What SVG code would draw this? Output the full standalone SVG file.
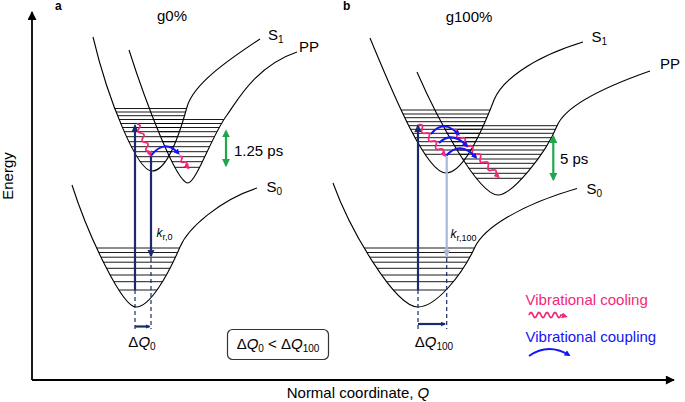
<svg xmlns="http://www.w3.org/2000/svg" width="685" height="402" viewBox="0 0 685 402">
<defs>
<style>
text{font-family:"Liberation Sans",Arial,sans-serif;fill:#000}
.lab{font-size:15px}
.sub{font-size:10px}
.curve{fill:none;stroke:#000;stroke-width:1.1}
.lvl{fill:none;stroke:#000;stroke-width:0.9}
.axis{fill:none;stroke:#000;stroke-width:1.8}
.navy{fill:none;stroke:#1a2a6c;stroke-width:2.2}
.dash{fill:none;stroke:#1a2a6c;stroke-width:1.2;stroke-dasharray:4 3}
.lb{fill:none;stroke:#a7b9d6;stroke-width:2.2}
.pink{fill:none;stroke:#f2287b;stroke-width:1.8;stroke-linejoin:round}
.blue{fill:none;stroke:#1414f5;stroke-width:2}
.green{fill:none;stroke:#1ea84b;stroke-width:2.2}
</style>
<marker id="ah-black" viewBox="0 0 10 10" refX="9" refY="5" markerWidth="11" markerHeight="9" markerUnits="userSpaceOnUse" orient="auto"><path d="M0,0 L10,5 L0,10 Z" fill="#000"/></marker>
<marker id="ah-navy" viewBox="0 0 10 10" refX="8" refY="5" markerWidth="8" markerHeight="8" markerUnits="userSpaceOnUse" orient="auto"><path d="M0,0.5 L10,5 L0,9.5 Z" fill="#1a2a6c"/></marker>
<marker id="ah-navy-s" viewBox="0 0 10 10" refX="8" refY="5" markerWidth="5" markerHeight="5" markerUnits="userSpaceOnUse" orient="auto"><path d="M0,0.5 L10,5 L0,9.5 Z" fill="#1a2a6c"/></marker>
<marker id="ah-lb" viewBox="0 0 10 10" refX="8" refY="5" markerWidth="8" markerHeight="8" markerUnits="userSpaceOnUse" orient="auto"><path d="M0,0.5 L10,5 L0,9.5 Z" fill="#a7b9d6"/></marker>
<marker id="ah-green" viewBox="0 0 10 10" refX="8" refY="5" markerWidth="8" markerHeight="8" markerUnits="userSpaceOnUse" orient="auto-start-reverse"><path d="M0,0 L10,5 L0,10 Z" fill="#1ea84b"/></marker>
<marker id="ah-pink" viewBox="0 0 10 10" refX="7" refY="5" markerWidth="6" markerHeight="6" markerUnits="userSpaceOnUse" orient="auto"><path d="M0,0 L10,5 L0,10 Z" fill="#f2287b"/></marker>
<marker id="ah-blue" viewBox="0 0 10 10" refX="7" refY="5" markerWidth="6" markerHeight="6" markerUnits="userSpaceOnUse" orient="auto"><path d="M0,0 L10,5 L0,10 Z" fill="#1414f5"/></marker>
<clipPath id="c-s1a"><path d="M93,37 C108,100 137,171 152,171 C163.7,171 175.3,149.7 187,107 C193,85 225,62 260,39 L260,0 L93,0 Z"/></clipPath>
<clipPath id="c-ppa"><path d="M129,50 C145,100 176,183 188,183 C196,183 212,135 227,115 C236,103 255,66 297,52 L297,0 L129,0 Z"/></clipPath>
<clipPath id="c-s0a"><path d="M72,185 C88,235 122,307 136,307 C150,307 168,275 180,247 C188,228 220,200 257,188 L257,0 L72,0 Z"/></clipPath>
<clipPath id="c-s1b"><path d="M370,38 C390,86 425,173 446,173 C464,173 484,126 494,100 C501,82 530,58 583,42 L583,0 L370,0 Z"/></clipPath>
<clipPath id="c-ppb"><path d="M417,72 C437,118 478,195 498,195 C512,195 545,155 557,126 C563,111 590,92 650,71 L650,0 L417,0 Z"/></clipPath>
<clipPath id="c-s0b"><path d="M333,183 C350,230 395,307 418,307 C436,307 462,275 475,247 C484,228 520,205 577,188.5 L577,0 L333,0 Z"/></clipPath>
</defs>

<g id="axes">
<path class="axis" d="M32,380 V12" marker-end="url(#ah-black)"/>
<path class="axis" d="M32,380 H674" marker-end="url(#ah-black)"/>
<text class="lab" transform="translate(12.5,176) rotate(-90)" text-anchor="middle">Energy</text>
<text class="lab" x="358" y="397.5" text-anchor="middle">Normal coordinate, <tspan font-style="italic">Q</tspan></text>
</g>

<g id="panel-a-title">
<text x="55" y="9.5" font-size="12" font-weight="bold">a</text>
<text class="lab" x="172" y="21" text-anchor="middle">g0%</text>
</g>
<g id="panel-b-title">
<text x="343" y="9.5" font-size="12" font-weight="bold">b</text>
<text class="lab" x="469" y="21.5" text-anchor="middle">g100%</text>
</g>

<g id="S1-a">
<path class="curve" d="M93,37 C108,100 137,171 152,171 C163.7,171 175.3,149.7 187,107 C193,85 225,62 260,39"/>
<g clip-path="url(#c-s1a)"><path class="lvl" d="M60,108.5H320M60,112H320M60,115.7H320M60,119.5H320M60,123.5H320M60,127.5H320M60,131.7H320M60,136.7H320M60,141.7H320M60,146.7H320M60,151.7H320M60,156.7H320M60,161.7H320"/></g>
<text class="lab" x="268" y="39.5">S<tspan class="sub" dy="3">1</tspan></text>
</g>
<g id="PP-a">
<path class="curve" d="M129,50 C145,100 176,183 188,183 C196,183 212,135 227,115 C236,103 255,66 297,52"/>
<g clip-path="url(#c-ppa)"><path class="lvl" d="M60,119.5H320M60,123.5H320M60,127.5H320M60,131.7H320M60,136.7H320M60,141.7H320M60,146.7H320M60,151.7H320M60,156.7H320M60,161.7H320M60,167.3H320"/></g>
<text class="lab" x="299" y="51.5">PP</text>
</g>
<g id="S0-a">
<path class="curve" d="M72,185 C88,235 122,307 136,307 C150,307 168,275 180,247 C188,228 220,200 257,188"/>
<g clip-path="url(#c-s0a)"><path class="lvl" d="M60,248H320M60,252.5H320M60,257.2H320M60,262.2H320M60,268.3H320M60,275H320M60,281.7H320M60,290H320"/></g>
<text class="lab" x="266.5" y="191.5">S<tspan class="sub" dy="3">0</tspan></text>
</g>

<g id="S1-b">
<path class="curve" d="M370,38 C390,86 425,173 446,173 C464,173 484,126 494,100 C501,82 530,58 583,42"/>
<g clip-path="url(#c-s1b)"><path class="lvl" d="M340,110H680M340,114H680M340,117.7H680M340,121.7H680M340,125.7H680M340,129.3H680M340,133.3H680M340,137.7H680M340,141.7H680M340,145.7H680M340,150H680M340,154.3H680"/></g>
<text class="lab" x="591.5" y="41.7">S<tspan class="sub" dy="3">1</tspan></text>
</g>
<g id="PP-b">
<path class="curve" d="M417,72 C437,118 478,195 498,195 C512,195 545,155 557,126 C563,111 590,92 650,71"/>
<g clip-path="url(#c-ppb)"><path class="lvl" d="M340,125.7H680M340,129.3H680M340,133.3H680M340,137.7H680M340,141.7H680M340,145.7H680M340,150H680M340,154.3H680M340,159H680M340,163.3H680M340,168.3H680M340,173.3H680"/><path class="lvl" stroke-width="1.6" d="M340,178.3H680"/></g>
<text class="lab" x="660" y="68.5">PP</text>
</g>
<g id="S0-b">
<path class="curve" d="M333,183 C350,230 395,307 418,307 C436,307 462,275 475,247 C484,228 520,205 577,188.5"/>
<g clip-path="url(#c-s0b)"><path class="lvl" d="M330,248H680M330,252.5H680M330,257.2H680M330,262.2H680M330,268.3H680M330,275H680M330,281.7H680M330,290H680"/></g>
<text class="lab" x="586.5" y="193.5">S<tspan class="sub" dy="3">0</tspan></text>
</g>

<g id="connectors">
<path class="dash" d="M135,290V329M151,258V329M418,290V329M446.7,258V329"/>
<path class="navy" d="M135,290V125.5" marker-end="url(#ah-navy)"/>
<path class="navy" d="M151,155V256" marker-end="url(#ah-navy)"/>
<path class="navy" d="M418,290V125.5" marker-end="url(#ah-navy)"/>
<path class="lb" d="M446.7,156.5V256" marker-end="url(#ah-lb)"/>
<path class="navy" stroke-width="1.4" d="M135,326.5H149.5" marker-end="url(#ah-navy-s)"/>
<path class="navy" stroke-width="1.4" d="M418,324H445" marker-end="url(#ah-navy-s)"/>
<path class="green" d="M226,131V165.5" marker-start="url(#ah-green)" marker-end="url(#ah-green)"/>
<path class="green" d="M553.3,136.5V179.5" marker-start="url(#ah-green)" marker-end="url(#ah-green)"/>
<path class="pink" d="M137,124 Q142.03,124.53 139,128.58 T141,133.17 T143,137.75 T145,142.33 T147,146.92 T149,151.5 L150.8,155.3" marker-end="url(#ah-pink)"/>
<path class="blue" d="M151.5,155 Q165,138.5 178.5,153.5" marker-end="url(#ah-blue)"/>
<path class="pink" d="M179.5,156.5 Q183.74,155.48 181.67,159.33 T183.83,162.17 T186,165 L188.3,168" marker-end="url(#ah-pink)"/>
<path class="pink" d="M418.5,125 Q424.03,123.73 422,129.03 T425.5,133.06 T429,137.09 T432.5,141.11 T436,145.14 T439.5,149.17 T443,153.2 L445,155.6" marker-end="url(#ah-pink)"/>
<path class="pink" d="M453.3,130 Q458.84,128.54 457.17,134.02 T461.05,138.04 T464.92,142.05 T468.79,146.07 T472.67,150.09 T476.54,154.11 T480.41,158.13 T484.28,162.14 T488.16,166.16 T492.03,170.18 T495.9,174.2 L498.5,177" marker-end="url(#ah-pink)"/>
<path class="blue" d="M431,134 Q444,118.5 458.5,134.5" marker-end="url(#ah-blue)"/>
<path class="blue" d="M439,143 Q452,130.5 467,146" marker-end="url(#ah-blue)"/>
<path class="blue" d="M446.5,155.5 Q460,140 476,157.5" marker-end="url(#ah-blue)"/>
</g>

<g id="labels">
<text class="lab" x="234" y="156">1.25 ps</text>
<text class="lab" x="560" y="163.5">5 ps</text>
<text x="156.5" y="236.5" font-size="12" font-style="italic">k<tspan font-size="9" font-style="normal" dy="3">r,0</tspan></text>
<text x="450.5" y="237.5" font-size="12" font-style="italic">k<tspan font-size="9" font-style="normal" dy="3">r,100</tspan></text>
<text class="lab" x="142" y="347" text-anchor="middle">Δ<tspan font-style="italic">Q</tspan><tspan class="sub" dy="3">0</tspan></text>
<text class="lab" x="434" y="347" text-anchor="middle">Δ<tspan font-style="italic">Q</tspan><tspan class="sub" dy="3">100</tspan></text>
</g>

<g id="comparison-box">
<rect x="227.5" y="329.5" width="101" height="30" rx="5" fill="none" stroke="#333" stroke-width="1.2"/>
<text class="lab" x="278" y="348.5" text-anchor="middle">Δ<tspan font-style="italic">Q</tspan><tspan class="sub" dy="3">0</tspan><tspan dy="-3"> &lt; Δ</tspan><tspan font-style="italic">Q</tspan><tspan class="sub" dy="3">100</tspan></text>
</g>

<g id="legend">
<text class="lab" x="525.5" y="305" style="fill:#f2287b">Vibrational cooling</text>
<path class="pink" d="M529,315 Q531,310 533,315 T537,315 T541,315 T545,315 T549,315 T553,315 T557,315 T561,315 L566,316.5" marker-end="url(#ah-pink)"/>
<text class="lab" x="525.5" y="341.5" style="fill:#1414f5">Vibrational coupling</text>
<path class="blue" d="M529,356 Q548,342.5 569,355" marker-end="url(#ah-blue)"/>
</g>
</svg>
